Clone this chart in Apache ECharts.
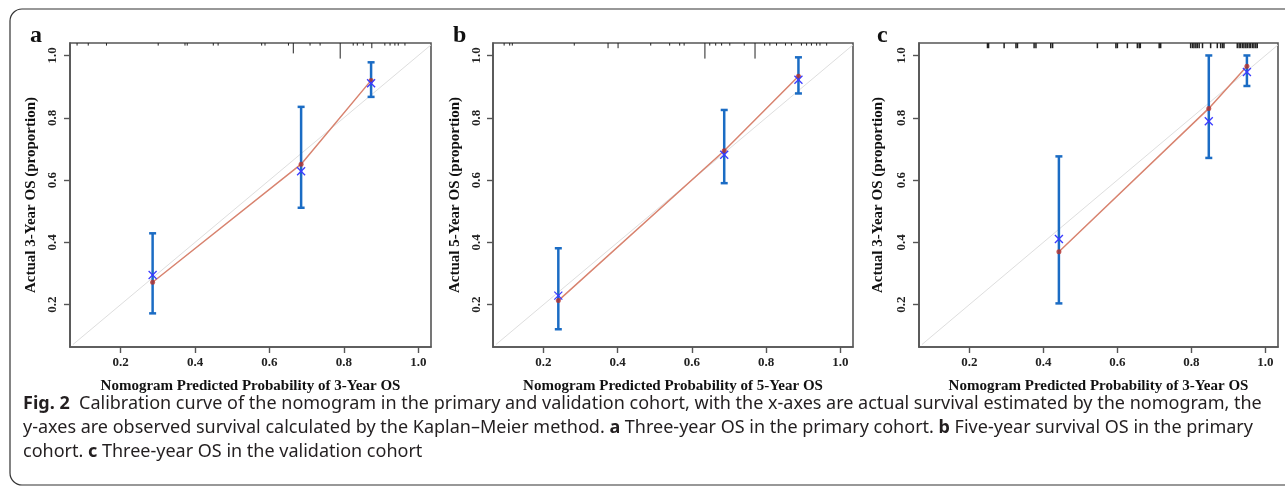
<!DOCTYPE html>
<html>
<head>
<meta charset="utf-8">
<title>Calibration curves</title>
<script src="https://cdn.jsdelivr.net/npm/echarts@6/dist/echarts.min.js"></script>
<style>
  html, body { margin: 0; padding: 0; background: #fff; }
  #main { width: 1285px; height: 488px; }
</style>
</head>
<body>
<div id="main"></div>
<script>
// tick labels shared by all three panels
const tickValues = [0.2, 0.4, 0.6, 0.8, 1.0]
const panelLetters = ['a', 'b', 'c']
const xNames = [
  'Nomogram Predicted Probability of 3-Year OS',
  'Nomogram Predicted Probability of 5-Year OS',
  'Nomogram Predicted Probability of 3-Year OS'
]
const yNames = [
  'Actual 3-Year OS (proportion)',
  'Actual 5-Year OS (proportion)',
  'Actual 3-Year OS (proportion)'
]

// a: 3-year OS, primary cohort
const predA = [0.286, 0.685, 0.873]
const apparentA = [0.272, 0.651, 0.92]
const observedA = [0.295, 0.628, 0.911]
const lowerA = [0.172, 0.511, 0.867]
const upperA = [0.429, 0.835, 0.978]
const rugA = [0.083, 0.113, 0.162, 0.301, 0.373, 0.379, 0.449, 0.462, 0.579, 0.588, 0.651, 0.664, 0.709, 0.736, 0.79, 0.825, 0.836, 0.852, 0.875, 0.91, 0.924, 0.937, 0.946, 0.964]
const rugCountA = [1, 1, 1, 1, 1, 1, 1, 1, 1, 1, 1, 4, 1, 1, 6, 1, 1, 1, 2, 1, 1, 1, 1, 1]

// b: 5-year OS, primary cohort
const predB = [0.24, 0.687, 0.887]
const apparentB = [0.213, 0.694, 0.933]
const observedB = [0.229, 0.681, 0.922]
const lowerB = [0.121, 0.59, 0.878]
const upperB = [0.381, 0.825, 0.994]
const rugB = [0.094, 0.109, 0.116, 0.283, 0.374, 0.401, 0.489, 0.54, 0.567, 0.579, 0.635, 0.648, 0.664, 0.68, 0.702, 0.741, 0.77, 0.796, 0.81, 0.828, 0.852, 0.868, 0.895, 0.909, 0.922, 0.936, 0.945, 0.963]
const rugCountB = [1, 1, 1, 1, 2, 2, 1, 1, 1, 1, 6, 1, 1, 1, 1, 1, 6, 1, 1, 1, 1, 1, 1, 1, 1, 1, 1, 1]

// c: 3-year OS, validation cohort
const predC = [0.442, 0.847, 0.95]
const apparentC = [0.37, 0.83, 0.965]
const observedC = [0.411, 0.789, 0.947]
const lowerC = [0.204, 0.671, 0.902]
const upperC = [0.676, 1.0, 1.0]
const rugC = [0.249, 0.252, 0.294, 0.326, 0.33, 0.375, 0.38, 0.42, 0.425, 0.546, 0.596, 0.6, 0.627, 0.654, 0.659, 0.662, 0.713, 0.717,
  0.798, 0.803, 0.807, 0.812, 0.816, 0.821, 0.83, 0.852, 0.87, 0.879, 0.884, 0.888,
  0.924, 0.929, 0.933, 0.938, 0.942, 0.947, 0.951, 0.956, 0.96, 0.965, 0.969, 0.974, 0.978]
const rugCountC = rugC.map(() => 2)

const panels = [
  { pred: predA, apparent: apparentA, observed: observedA, lower: lowerA, upper: upperA, rug: rugA, rugCount: rugCountA },
  { pred: predB, apparent: apparentB, observed: observedB, lower: lowerB, upper: upperB, rug: rugB, rugCount: rugCountB },
  { pred: predC, apparent: apparentC, observed: observedC, lower: lowerC, upper: upperC, rug: rugC, rugCount: rugCountC }
]

const X_MIN = 0.064
const X_MAX = 1.034
const Y_MIN = 0.064
const Y_MAX = 1.04

const serif = 'Liberation Serif, Times New Roman, serif'
const axisColor = '#555'
const grids = [
  { left: 70, top: 43, width: 361, height: 304, nameGap: 31, labelMargin: 11 },
  { left: 493, top: 43, width: 360, height: 304, nameGap: 30, labelMargin: 10 },
  { left: 919, top: 43, width: 359, height: 304, nameGap: 33, labelMargin: 11 }
]

function errorBar (params, api) {
  const x = api.value(0)
  const lo = api.coord([x, api.value(1)])
  const hi = api.coord([x, api.value(2)])
  const style = { stroke: '#1b6cc4', lineWidth: 2.5 }
  const w = 3.5
  return {
    type: 'group',
    children: [
      { type: 'line', shape: { x1: lo[0], y1: lo[1], x2: hi[0], y2: hi[1] }, style: style },
      { type: 'line', shape: { x1: lo[0] - w, y1: lo[1], x2: lo[0] + w, y2: lo[1] }, style: style },
      { type: 'line', shape: { x1: hi[0] - w, y1: hi[1], x2: hi[0] + w, y2: hi[1] }, style: style }
    ]
  }
}

function crossMark (params, api) {
  const p = api.coord([api.value(0), api.value(1)])
  const s = 4
  const style = { stroke: '#3a3aff', lineWidth: 1.3 }
  return {
    type: 'group',
    children: [
      { type: 'line', shape: { x1: p[0] - s, y1: p[1] - s, x2: p[0] + s, y2: p[1] + s }, style: style },
      { type: 'line', shape: { x1: p[0] - s, y1: p[1] + s, x2: p[0] + s, y2: p[1] - s }, style: style }
    ]
  }
}

let grid = []
let xAxis = []
let yAxis = []
let series = []
let graphic = [
  {
    type: 'rect',
    shape: { x: 10, y: 9, width: 1330, height: 476, r: 12 },
    style: { fill: 'none', stroke: '#333', lineWidth: 1.2 },
    silent: true
  }
]

panels.forEach((d, i) => {
  const g = grids[i]
  grid.push({ left: g.left, top: g.top, width: g.width, height: g.height, show: true, borderColor: axisColor, borderWidth: 1.6, backgroundColor: 'transparent' })
  xAxis.push({
    type: 'value',
    gridIndex: i,
    min: X_MIN,
    max: X_MAX,
    name: xNames[i],
    nameLocation: 'middle',
    nameGap: 32,
    nameTextStyle: { fontFamily: serif, fontWeight: 'bold', fontSize: 15, color: '#111' },
    axisLine: { show: true, onZero: false, lineStyle: { color: axisColor, width: 1.6 } },
    axisTick: { show: true, length: 6, customValues: tickValues, lineStyle: { color: axisColor, width: 1.4 } },
    axisLabel: { customValues: tickValues, margin: 9, fontFamily: serif, fontWeight: 'bold', fontSize: 13, color: '#222', formatter: v => v.toFixed(1) },
    splitLine: { show: false }
  })
  yAxis.push({
    type: 'value',
    gridIndex: i,
    min: Y_MIN,
    max: Y_MAX,
    name: yNames[i],
    nameLocation: 'middle',
    nameGap: g.nameGap,
    nameRotate: 90,
    nameTextStyle: { fontFamily: serif, fontWeight: 'bold', fontSize: 15, color: '#111' },
    axisLine: { show: true, onZero: false, lineStyle: { color: axisColor, width: 1.6 } },
    axisTick: { show: true, length: 6, customValues: tickValues, lineStyle: { color: axisColor, width: 1.4 } },
    axisLabel: { customValues: tickValues, rotate: 90, margin: g.labelMargin, fontFamily: serif, fontWeight: 'bold', fontSize: 13, color: '#222', formatter: v => v.toFixed(1) },
    splitLine: { show: false }
  })

  // ideal diagonal
  series.push({
    type: 'line', xAxisIndex: i, yAxisIndex: i, silent: true, symbol: 'none',
    data: [[X_MIN + 0.008, Y_MIN + 0.008], [X_MAX, X_MAX]],
    lineStyle: { color: '#dedede', width: 1 }
  })
  // rug of predicted values
  series.push({
    type: 'custom', xAxisIndex: i, yAxisIndex: i, silent: true,
    renderItem: (params, api) => {
      const p = api.coord([api.value(0), Y_MAX])
      return {
        type: 'line',
        shape: { x1: p[0], y1: p[1], x2: p[0], y2: p[1] + api.value(1) * 2.6 },
        style: { stroke: '#222', lineWidth: i === 2 ? 1.5 : 1 }
      }
    },
    data: d.rug.map((v, k) => [v, d.rugCount[k]])
  })
  // apparent calibration line
  series.push({
    type: 'line', xAxisIndex: i, yAxisIndex: i, silent: true, symbol: 'none', z: 3,
    data: d.pred.map((v, k) => [v, d.apparent[k]]),
    lineStyle: { color: '#d8836f', width: 1.5 }
  })
  // error bars
  series.push({
    type: 'custom', xAxisIndex: i, yAxisIndex: i, silent: true, z: 4,
    renderItem: errorBar,
    data: d.pred.map((v, k) => [v, d.lower[k], d.upper[k]])
  })
  // apparent points
  series.push({
    type: 'scatter', xAxisIndex: i, yAxisIndex: i, silent: true, z: 5,
    symbol: 'circle', symbolSize: 5,
    itemStyle: { color: '#b8312a' },
    data: d.pred.map((v, k) => [v, d.apparent[k]])
  })
  // observed (x marks)
  series.push({
    type: 'custom', xAxisIndex: i, yAxisIndex: i, silent: true, z: 6,
    renderItem: crossMark,
    data: d.pred.map((v, k) => [v, d.observed[k]])
  })

  graphic.push({
    type: 'text',
    left: [30, 453, 877][i],
    top: 24,
    style: { text: panelLetters[i], font: 'bold 24px ' + serif, fill: '#111' }
  })
})

const captionSize = 18
const captionRich = {
  b: { fontFamily: 'Noto Sans', fontWeight: 'bold', fontSize: captionSize, fill: '#231f20' }
}
const captionLines = [
  '{b|Fig. 2}  Calibration curve of the nomogram in the primary and validation cohort, with the x-axes are actual survival estimated by the nomogram, the',
  'y-axes are observed survival calculated by the Kaplan\u2013Meier method. {b|a} Three-year OS in the primary cohort. {b|b} Five-year survival OS in the primary',
  'cohort. {b|c} Three-year OS in the validation cohort'
]
captionLines.forEach((t, k) => {
  graphic.push({
    type: 'text',
    left: 23,
    top: 395 + k * 24,
    style: { text: t, fontFamily: 'Noto Sans', fontSize: captionSize, fill: '#231f20', rich: captionRich }
  })
})

const myChart = echarts.init(document.getElementById('main'), null, { renderer: 'canvas' })
myChart.setOption({
  animation: false,
  backgroundColor: '#fff',
  grid: grid,
  xAxis: xAxis,
  yAxis: yAxis,
  series: series,
  graphic: graphic
})
</script>
</body>
</html>
